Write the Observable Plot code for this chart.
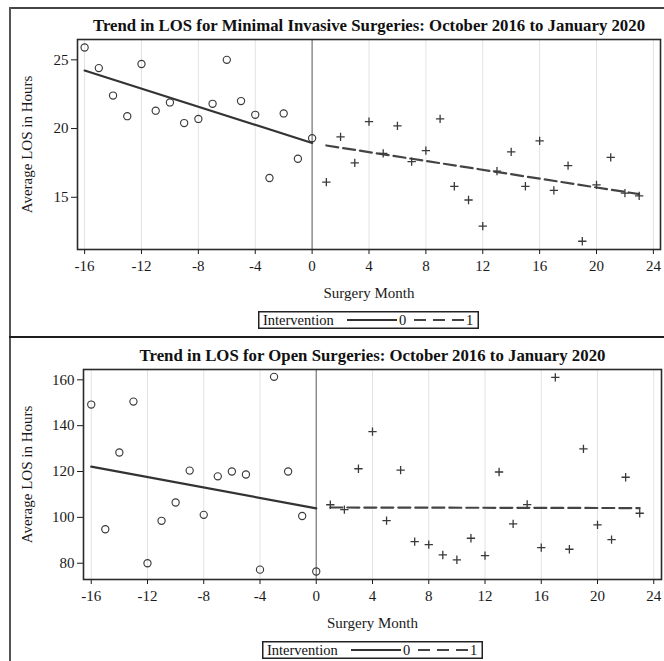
<!DOCTYPE html>
<html>
<head>
<meta charset="utf-8">
<script src="https://cdn.jsdelivr.net/npm/d3@7"></script>
<script src="https://cdn.jsdelivr.net/npm/@observablehq/plot@0.6"></script>
<style>
  html, body { margin: 0; padding: 0; background: #fff; }
  #wrap { position: relative; width: 664px; height: 661px; overflow: hidden; background: #fff; font-family: "Liberation Serif", "Times New Roman", serif; }
  .panel { position: absolute; left: 0; }
  .line { position: absolute; }
  .legend { position: absolute; }
</style>
</head>
<body>
<div id="wrap"></div>
<script>
// ---- data ----
const monthsPre = [-16,-15,-14,-13,-12,-11,-10,-9,-8,-7,-6,-5,-4,-3,-2,-1,0];
const monthsPost = [1,2,3,4,5,6,7,8,9,10,11,12,13,14,15,16,17,18,19,20,21,22,23];
const minimalPre = [25.9,24.4,22.4,20.9,24.7,21.3,21.9,20.4,20.7,21.8,25.0,22.0,21.0,16.4,21.1,17.8,19.3];
const minimalPost = [16.1,19.4,17.5,20.5,18.2,20.2,17.6,18.4,20.7,15.8,14.8,12.9,16.9,18.3,15.8,19.1,15.5,17.3,11.8,15.9,17.9,15.3,15.1];
const openPre = [149.2,94.8,128.3,150.5,80.0,98.5,106.5,120.4,101.1,117.9,120.0,118.7,77.2,161.3,120.0,100.6,76.4];
const openPost = [105.5,103.4,121.2,137.4,98.6,120.6,89.4,88.1,83.6,81.5,90.9,83.3,119.8,97.2,105.6,86.8,161.1,86.1,129.9,96.7,90.3,117.5,101.8];
const xTicks = [-16,-12,-8,-4,0,4,8,12,16,20,24];
const minimalYTicks = [15,20,25];
const openYTicks = [80,100,120,140,160];
const titles = ["Trend in LOS for Minimal Invasive Surgeries: October 2016 to January 2020",
                "Trend in LOS for Open Surgeries: October 2016 to January 2020"];
const xLabel = "Surgery Month";
const yLabel = "Average LOS in Hours";
const legendTitle = "Intervention";
const groups = ["0", "1"];

const rows = (ms, vs) => ms.map((m, i) => ({month: m, los: vs[i]}));

const ink = "#3a3a3a";
const FONT = "Liberation Serif, Times New Roman, serif";

function panel({pre, post, title, yDomain, yTicks, xDomain, height, mt, mb, ml, mr, ylabDx}) {
  return Plot.plot({
    width: 664, height,
    marginTop: mt, marginBottom: mb, marginLeft: ml, marginRight: mr,
    style: {fontFamily: FONT, fontSize: "15px", color: "#1a1a1a", background: "transparent", overflow: "visible"},
    x: {domain: xDomain, ticks: xTicks, tickSize: 5, tickPadding: 6, tickFormat: d => String(d), label: null},
    y: {domain: yDomain, ticks: yTicks, tickSize: 6, tickPadding: 3, tickFormat: d => String(d), label: null},
    marks: [
      Plot.gridX(xTicks, {stroke: "#e2e2e2", strokeOpacity: 1, strokeWidth: 1}),
      Plot.ruleX([0], {stroke: "#7a7a7a", strokeWidth: 1.2}),
      Plot.linearRegressionY(pre, {x: "month", y: "los", ci: 0, stroke: "#333", strokeWidth: 2.2}),
      Plot.linearRegressionY(post, {x: "month", y: "los", ci: 0, stroke: "#444", strokeWidth: 2.2, strokeDasharray: "12,5"}),
      Plot.dot(pre, {x: "month", y: "los", r: 3.6, stroke: ink, strokeWidth: 1.15, fill: "none"}),
      Plot.dot(post, {x: "month", y: "los", symbol: "plus", r: 2.8, stroke: ink, strokeWidth: 1.3, fill: "none"}),
      Plot.frame({stroke: "#2a2a2a", strokeWidth: 1.6}),
      Plot.text([title], {text: d => d, frameAnchor: "top", dy: -14, lineAnchor: "middle", textAnchor: "middle", fontWeight: "bold", fontSize: 16.8, fill: "#111"}),
      Plot.text([yLabel], {text: d => d, frameAnchor: "left", dx: ylabDx, rotate: -90, lineAnchor: "middle", textAnchor: "middle", fontSize: 15, fill: "#1a1a1a"}),
      Plot.text([xLabel], {text: d => d, frameAnchor: "bottom", dy: 44, lineAnchor: "middle", textAnchor: "middle", fontSize: 15, fill: "#1a1a1a"})
    ]
  });
}

function legend(left, top) {
  const ns = "http://www.w3.org/2000/svg";
  const svg = document.createElementNS(ns, "svg");
  svg.setAttribute("width", 221); svg.setAttribute("height", 18);
  svg.setAttribute("class", "legend");
  svg.style.left = left + "px"; svg.style.top = top + "px";
  svg.style.fontFamily = FONT; svg.style.fontSize = "14.5px";
  const add = (tag, attrs, txt) => {
    const el = document.createElementNS(ns, tag);
    for (const k in attrs) el.setAttribute(k, attrs[k]);
    if (txt != null) el.textContent = txt;
    svg.appendChild(el); return el;
  };
  add("rect", {x: 0.75, y: 0.75, width: 219.5, height: 16.5, fill: "#fff", stroke: "#222", "stroke-width": 1.5});
  add("text", {x: 5, y: 13.5, fill: "#111"}, legendTitle);
  add("line", {x1: 89, x2: 139, y1: 9, y2: 9, stroke: "#333", "stroke-width": 2});
  add("text", {x: 141, y: 13.5, fill: "#111"}, groups[0]);
  add("line", {x1: 156, x2: 206, y1: 9, y2: 9, stroke: "#444", "stroke-width": 2, "stroke-dasharray": "12,7"});
  add("text", {x: 208, y: 13.5, fill: "#111"}, groups[1]);
  return svg;
}

const wrap = document.getElementById("wrap");

const top1 = panel({
  pre: rows(monthsPre, minimalPre), post: rows(monthsPost, minimalPost),
  title: titles[0], yDomain: [11.2, 26.48], yTicks: minimalYTicks, xDomain: [-16.5, 24.5],
  height: 310, mt: 39, mb: 61, ml: 77, mr: 4, ylabDx: -50
});
top1.classList.add("panel"); top1.style.top = "0px";
wrap.appendChild(top1);

const bot = panel({
  pre: rows(monthsPre, openPre), post: rows(monthsPost, openPost),
  title: titles[1], yDomain: [72.9, 164.5], yTicks: openYTicks, xDomain: [-16.55, 24.55],
  height: 280, mt: 32, mb: 38, ml: 83, mr: 3, ylabDx: -56
});
bot.classList.add("panel"); bot.style.top = "337px";
wrap.appendChild(bot);

wrap.appendChild(legend(258, 311));
wrap.appendChild(legend(262, 641));

// outer panel borders
function hline(x, y, w, h, c) {
  const d = document.createElement("div");
  d.className = "line";
  Object.assign(d.style, {left: x + "px", top: y + "px", width: w + "px", height: h + "px", background: c});
  wrap.appendChild(d);
}
hline(9, 7, 660, 1.7, "#444");
hline(9, 7, 2, 660, "#555");
hline(9, 335.8, 660, 2.2, "#1e1e1e");
</script>
</body>
</html>
